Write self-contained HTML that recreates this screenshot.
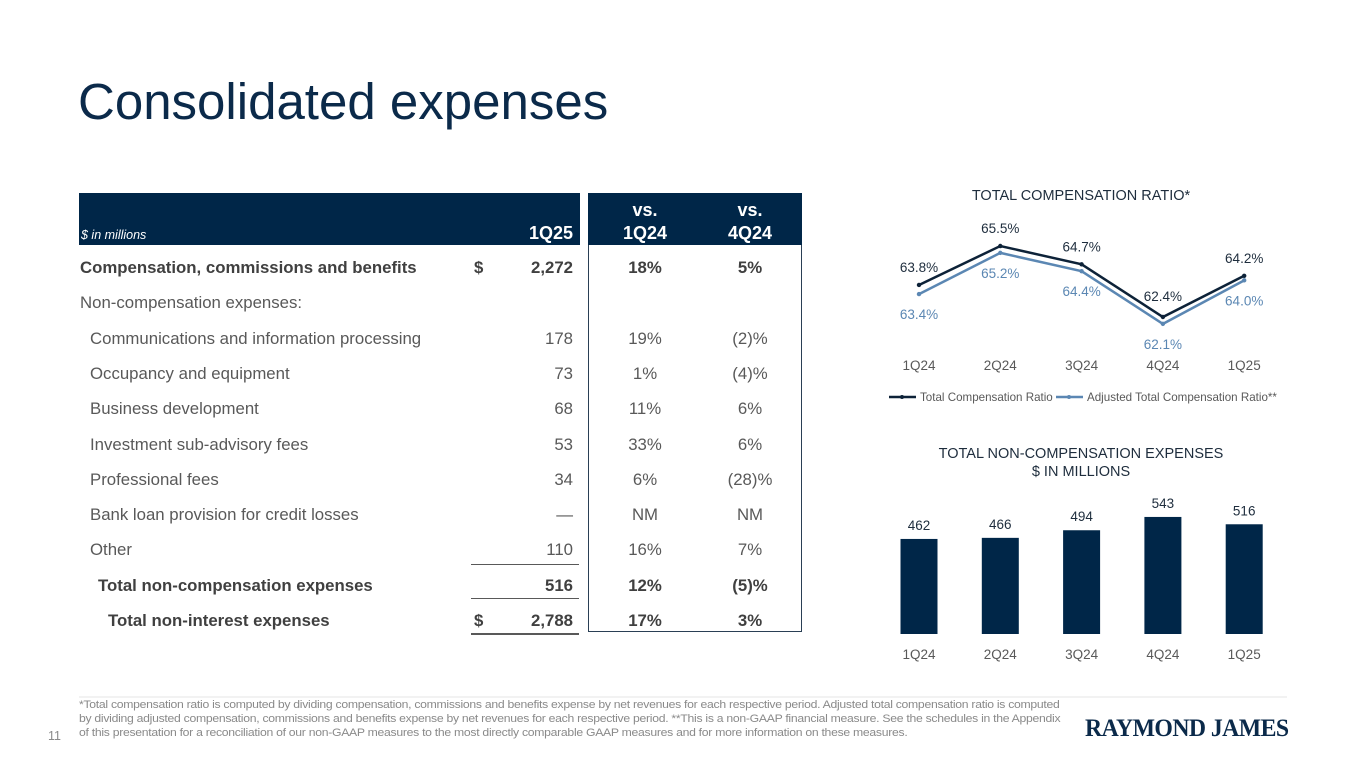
<!DOCTYPE html>
<html><head><meta charset="utf-8"><style>
body{margin:0;width:1365px;height:768px;background:#fff;font-family:"Liberation Sans",Arial,sans-serif;position:relative;overflow:hidden}
.a{position:absolute;white-space:nowrap}
.t{font-size:16.8px;color:#595959;line-height:20px}
.b{font-weight:bold;color:#404040}
.r{text-align:right}
.c{text-align:center}
</style></head><body>
<div class="a" style="left:78px;top:72px;font-size:51px;color:#0b2a4a">Consolidated expenses</div>

<div class="a" style="left:79px;top:193px;width:501px;height:52px;background:#002648"></div>
<div class="a" style="left:588px;top:193px;width:212px;height:438px;border:1.5px solid #2a3f55;border-top:none"></div>
<div class="a" style="left:588px;top:193px;width:214px;height:52px;background:#002648"></div>
<div class="a" style="left:81px;top:228px;font-size:12.5px;font-style:italic;color:#fff">$ in millions</div>
<div class="a b" style="left:480px;width:93px;top:223px;font-size:18px;color:#fff;text-align:right">1Q25</div>
<div class="a b c" style="left:600px;width:90px;top:199px;font-size:18px;color:#fff;line-height:23px">vs.<br>1Q24</div>
<div class="a b c" style="left:705px;width:90px;top:199px;font-size:18px;color:#fff;line-height:23px">vs.<br>4Q24</div>

<div id="rows"></div>
<div class="a" style="left:471px;top:564px;width:108px;height:1px;background:#595959"></div>
<div class="a" style="left:471px;top:598px;width:108px;height:1px;background:#595959"></div>
<div class="a" style="left:471px;top:633px;width:108px;height:2px;background:#595959"></div>

<svg class="a" style="left:0;top:0" width="1365" height="768">
<text x="1081" y="200" text-anchor="middle" font-size="14.5" fill="#1e2d3d">TOTAL COMPENSATION RATIO*</text>
<g id="line"></g>
<g>
<line x1="889" y1="397" x2="916" y2="397" stroke="#0d2238" stroke-width="2.5"/><circle cx="902" cy="397" r="2" fill="#0d2238"/>
<text x="920" y="401" font-size="11.6" fill="#595959">Total Compensation Ratio</text>
<line x1="1056" y1="397" x2="1083" y2="397" stroke="#5b87b3" stroke-width="2.5"/><circle cx="1069" cy="397" r="2" fill="#5b87b3"/>
<text x="1087" y="401" font-size="11.6" fill="#595959">Adjusted Total Compensation Ratio**</text>
</g>
<text x="1081" y="458" text-anchor="middle" font-size="14.5" fill="#1e2d3d">TOTAL NON-COMPENSATION EXPENSES</text>
<text x="1081" y="476" text-anchor="middle" font-size="14.5" fill="#1e2d3d">$ IN MILLIONS</text>
<g id="bars"></g>
<line x1="79" y1="697" x2="1287" y2="697" stroke="#e6e6e6"/>
</svg>

<div class="a" style="left:48px;top:729px;font-size:12.5px;color:#8a8a8a">11</div>
<div class="a" style="left:79px;top:698px;font-size:10.9px;letter-spacing:-0.25px;color:#8a8a8a;line-height:14px;transform:scaleX(1.12);transform-origin:left top">*Total compensation ratio is computed by dividing compensation, commissions and benefits expense by net revenues for each respective period. Adjusted total compensation ratio is computed<br>by dividing adjusted compensation, commissions and benefits expense by net revenues for each respective period. **This is a non-GAAP financial measure. See the schedules in the Appendix<br>of this presentation for a reconciliation of our non-GAAP measures to the most directly comparable GAAP measures and for more information on these measures.</div>
<div class="a" style="left:1085px;top:715px;font-family:'Liberation Serif',serif;font-weight:bold;font-size:25px;color:#0b2a4a;letter-spacing:-0.6px;transform:scaleX(0.95);transform-origin:left">RAYMOND JAMES</div>

<script>
const rowLabels=["Compensation, commissions and benefits","Non-compensation expenses:","Communications and information processing","Occupancy and equipment","Business development","Investment sub-advisory fees","Professional fees","Bank loan provision for credit losses","Other","Total non-compensation expenses","Total non-interest expenses"];
const rowValues=["2,272","","178","73","68","53","34","—","110","516","2,788"];
const rowVs1Q24=["18%","","19%","1%","11%","33%","6%","NM","16%","12%","17%"];
const rowVs4Q24=["5%","","(2)%","(4)%","6%","6%","(28)%","NM","7%","(5)%","3%"];
const rowIndent=[0,0,10,10,10,10,10,10,10,18,28];
const rowBold=[1,0,0,0,0,0,0,0,0,1,1];
const rowDollar=[1,0,0,0,0,0,0,0,0,0,1];
const R=document.getElementById('rows');
rowLabels.forEach((l,i)=>{
  const y=258+i*35.3;const cls='a t'+(rowBold[i]?' b':'');
  const mk=(txt,style,name)=>{const d=document.createElement('div');d.className=cls;d.style.cssText=style+';top:'+y+'px';d.textContent=txt;
    
    
    R.appendChild(d);};
  mk(l,'left:'+(80+rowIndent[i])+'px','row-label');
  if(rowDollar[i])mk('$','left:474px','dollar-sign');
  mk(rowValues[i],'left:480px;width:93px;text-align:right','row-value');
  mk(rowVs1Q24[i],'left:600px;width:90px;text-align:center','row-vs-1q24');
  mk(rowVs4Q24[i],'left:705px;width:90px;text-align:center','row-vs-4q24');
});
const NS='http://www.w3.org/2000/svg';
function el(p,t,a){const e=document.createElementNS(NS,t);for(const k in a)e.setAttribute(k,a[k]);p.appendChild(e);return e;}
const quarters=["1Q24","2Q24","3Q24","4Q24","1Q25"];
const totalRatio=[63.8,65.5,64.7,62.4,64.2];
const adjRatio=[63.4,65.2,64.4,62.1,64.0];
const nonComp=[462,466,494,543,516];
const xq=i=>919+i*81.3;
const yr=v=>317-(v-62.4)*22.9;
const L=document.getElementById('line');
[[adjRatio,'#5b87b3','adjusted-ratio-line'],[totalRatio,'#0d2238','total-ratio-line']].forEach(([s,c,n])=>{
  const p=el(L,'polyline',{points:s.map((v,i)=>xq(i)+','+yr(v)).join(' '),fill:'none',stroke:c,'stroke-width':2.5});
  
  
  s.forEach((v,i)=>{const d=el(L,'circle',{cx:xq(i),cy:yr(v),r:2.2,fill:c});
    
    });
});
totalRatio.forEach((v,i)=>{let y=yr(v)-13; if(i==3)y=yr(v)-16;
  const t=el(L,'text',{x:xq(i),y:y,'text-anchor':'middle','font-size':13.5,fill:'#1e2d3d'});t.textContent=v.toFixed(1)+'%';
  
  });
adjRatio.forEach((v,i)=>{let y=yr(v)+25;
  const t=el(L,'text',{x:xq(i),y:y,'text-anchor':'middle','font-size':13.5,fill:'#5b87b3'});t.textContent=v.toFixed(1)+'%';
  
  });
quarters.forEach((q,i)=>{const t=el(L,'text',{x:xq(i),y:370,'text-anchor':'middle','font-size':13.5,fill:'#595959'});t.textContent=q;
  
  });
const B=document.getElementById('bars');
const yb=v=>634-(v-112)*0.2716;
nonComp.forEach((v,i)=>{
  const r=el(B,'rect',{x:xq(i)-18.5,y:yb(v),width:37,height:634-yb(v),fill:'#002648'});
  
  
  const t=el(B,'text',{x:xq(i),y:yb(v)-9,'text-anchor':'middle','font-size':13.5,fill:'#1e2d3d'});t.textContent=v;
  
  
  const q=el(B,'text',{x:xq(i),y:659,'text-anchor':'middle','font-size':13.5,fill:'#595959'});q.textContent=quarters[i];
  
  
});
</script>
</body></html>
